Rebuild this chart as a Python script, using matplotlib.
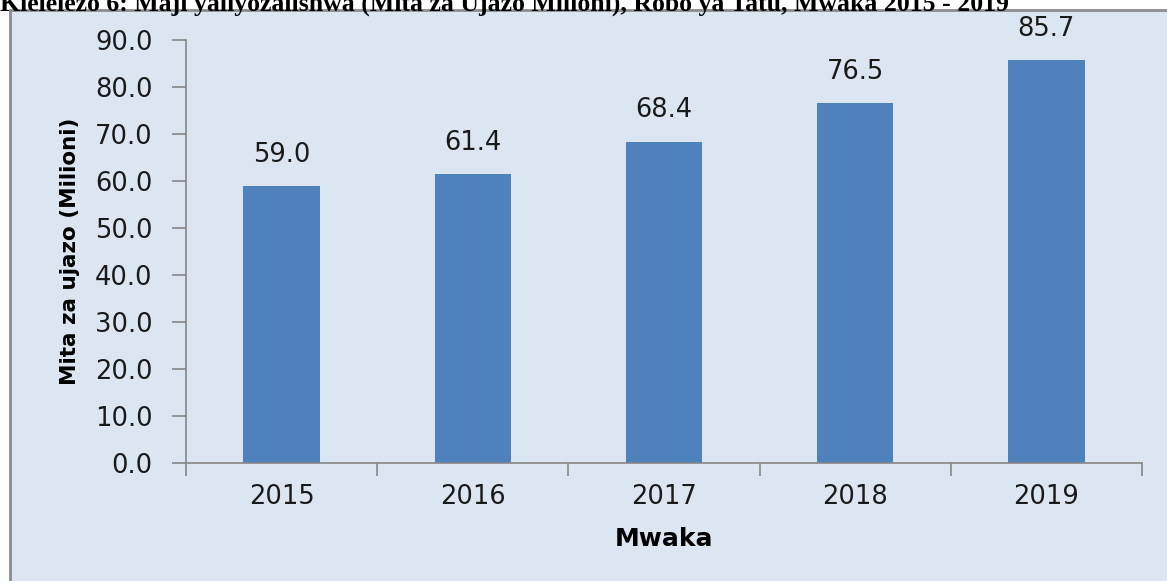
import matplotlib
matplotlib.use("Agg")
import matplotlib.pyplot as plt
from matplotlib.patches import Rectangle

years = ["2015", "2016", "2017", "2018", "2019"]
values = [59.0, 61.4, 68.4, 76.5, 85.7]
yticks = [0, 10, 20, 30, 40, 50, 60, 70, 80, 90]

W, H = 1167, 581
fig = plt.figure(figsize=(W/100, H/100), dpi=100)
fig.patch.set_facecolor("white")

bg = "#DCE6F2"
# panel background
bgax = fig.add_axes([0, 0, 1, 1], zorder=0)
bgax.set_axis_off()
bgax.set_xlim(0, W)
bgax.set_ylim(H, 0)
bgax.add_patch(Rectangle((10, 10), W + 20, H + 20, facecolor=bg, edgecolor="#8C8C8C", linewidth=2))

fig.text(0.0, 1 - 4/H, "Kielelezo 6: Maji yaliyozalishwa (Mita za Ujazo Milioni), Robo ya Tatu, Mwaka 2015 - 2019",
         fontsize=18.5, fontweight="bold", family="Liberation Serif", ha="left", va="center", zorder=5)

fs = 18.5
tc = "#1a1a1a"
ax = fig.add_axes([186/W, 1 - 463/H, (1142-186)/W, (463-40)/H], zorder=2)
ax.set_facecolor("none")
x = range(len(years))
ax.bar(x, values, width=0.4, color="#4F81BD", zorder=2)
ax.set_xlim(-0.5, len(years) - 0.5)
ax.set_ylim(0, 90)
ax.set_yticks(yticks)
ax.set_yticklabels([f"{v:.1f}" for v in yticks], fontsize=fs, family="DejaVu Sans", color=tc)
ax.set_xticks(list(x))
ax.set_xticklabels(years, fontsize=fs, family="DejaVu Sans", color=tc)
ax.set_xticks([i - 0.5 for i in range(len(years) + 1)], minor=True)
ax.tick_params(axis="x", which="major", length=0, pad=15)
ax.tick_params(axis="x", which="minor", length=9, color="#868686", width=1.2, direction="out")
ax.tick_params(axis="y", length=10, color="#868686", width=1.2, direction="out", pad=14)
for s in ["top", "right"]:
    ax.spines[s].set_visible(False)
for s in ["left", "bottom"]:
    ax.spines[s].set_color("#868686")
    ax.spines[s].set_linewidth(1.2)

for i, v in enumerate(values):
    ax.annotate(f"{v:.1f}", (i, v), xytext=(0, 13), textcoords="offset points",
                ha="center", va="bottom", fontsize=fs, family="DejaVu Sans", color=tc)

ax.set_ylabel("Mita za ujazo (Milioni)", fontsize=15.5, fontweight="bold",
              family="DejaVu Sans", labelpad=11)
ax.set_xlabel("Mwaka", fontsize=18, fontweight="bold", family="DejaVu Sans", labelpad=12)

fig.savefig("out.png", dpi=100, facecolor="white")
